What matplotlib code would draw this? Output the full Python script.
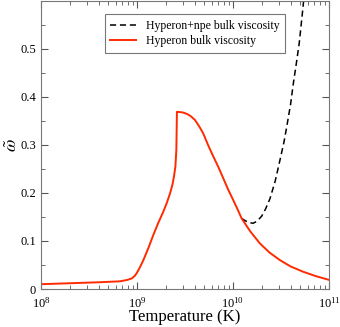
import matplotlib
matplotlib.use('Agg')
import matplotlib.pyplot as plt
from matplotlib.ticker import LogLocator, MultipleLocator, NullFormatter

plt.rcParams['font.family'] = ['Liberation Serif', 'DejaVu Serif']
plt.rcParams['mathtext.fontset'] = 'stix'

# Hyperon bulk viscosity (red solid), log10(T) vs omega-tilde
hyp_logT = [8.0, 8.3, 8.6, 8.823, 8.9, 8.945, 8.975, 8.997, 9.03, 9.066, 9.12, 9.17,
            9.22, 9.274, 9.31, 9.344, 9.37, 9.385, 9.40, 9.41, 9.413, 9.416,
            9.47, 9.517, 9.56, 9.604, 9.65, 9.69, 9.74, 9.795, 9.85, 9.9, 9.95,
            10.003, 10.05, 10.09, 10.18, 10.28, 10.38, 10.49, 10.6, 10.73, 10.86, 11.0]
hyp_val = [0.010, 0.012, 0.014, 0.016, 0.019, 0.022, 0.027, 0.033, 0.045, 0.060, 0.086,
           0.1125, 0.137, 0.161, 0.179, 0.199, 0.218, 0.234, 0.255, 0.29, 0.33, 0.369,
           0.368, 0.365, 0.360, 0.352, 0.338, 0.324, 0.300, 0.276, 0.253, 0.230, 0.207,
           0.185, 0.165, 0.147, 0.120, 0.095, 0.076, 0.060, 0.047, 0.036, 0.027, 0.019]

# Hyperon + npe bulk viscosity (black dashed)
tot_logT = [10.09, 10.13, 10.17, 10.21, 10.25, 10.30, 10.34, 10.385, 10.44, 10.49,
            10.53, 10.56, 10.60, 10.63, 10.66, 10.69, 10.71, 10.73, 10.745]
tot_val = [0.147, 0.142, 0.138, 0.137, 0.141, 0.152, 0.167, 0.188, 0.225, 0.269,
           0.305, 0.338, 0.385, 0.430, 0.470, 0.512, 0.550, 0.588, 0.62]

hyp_T = [10 ** v for v in hyp_logT]
tot_T = [10 ** v for v in tot_logT]

fig = plt.figure(figsize=(3.4, 3.27), dpi=100)
ax = fig.add_axes([0.1206, 0.1162, 0.847, 0.881])

ax.plot(tot_T, tot_val, color='black', linestyle=(0, (4, 2.5)), linewidth=1.1,
        label='Hyperon+npe bulk viscosity')
ax.plot(hyp_T, hyp_val, color='#ff2a00', linewidth=1.4, label='Hyperon bulk viscosity')

ax.set_xscale('log')
ax.set_xlim(1e8, 1e11)
ax.set_ylim(0, 0.6)
ax.xaxis.set_major_locator(LogLocator(base=10, numticks=10))
ax.xaxis.set_minor_locator(LogLocator(base=10, subs=range(2, 10), numticks=10))
ax.xaxis.set_minor_formatter(NullFormatter())
ax.yaxis.set_major_locator(MultipleLocator(0.1))
ax.yaxis.set_minor_locator(MultipleLocator(0.05))
ax.set_yticks([0, 0.1, 0.2, 0.3, 0.4, 0.5])
ax.set_yticklabels(['0', '0.1', '0.2', '0.3', '0.4', '0.5'])

ax.tick_params(which='both', direction='in', top=True, right=True, colors='#555555',
               labelcolor='black', labelsize=9)
ax.tick_params(which='major', length=5)
ax.tick_params(which='minor', length=3)
ax.tick_params(axis='x', pad=5)
for s in ax.spines.values():
    s.set_color('#777777')

ax.set_xlabel('Temperature (K)', fontsize=12, labelpad=-1)
ax.set_ylabel(r'$\tilde{\omega}$', fontsize=13)
ax.yaxis.set_label_coords(-0.07, 0.5)

leg = ax.legend(loc='upper left', bbox_to_anchor=(0.20, 0.975), fontsize=8.5,
                frameon=True, fancybox=False, edgecolor='#555555', handlelength=2.2,
                borderpad=0.5, labelspacing=0.3)
leg.get_frame().set_linewidth(0.8)

fig.savefig('out.png', dpi=100)
